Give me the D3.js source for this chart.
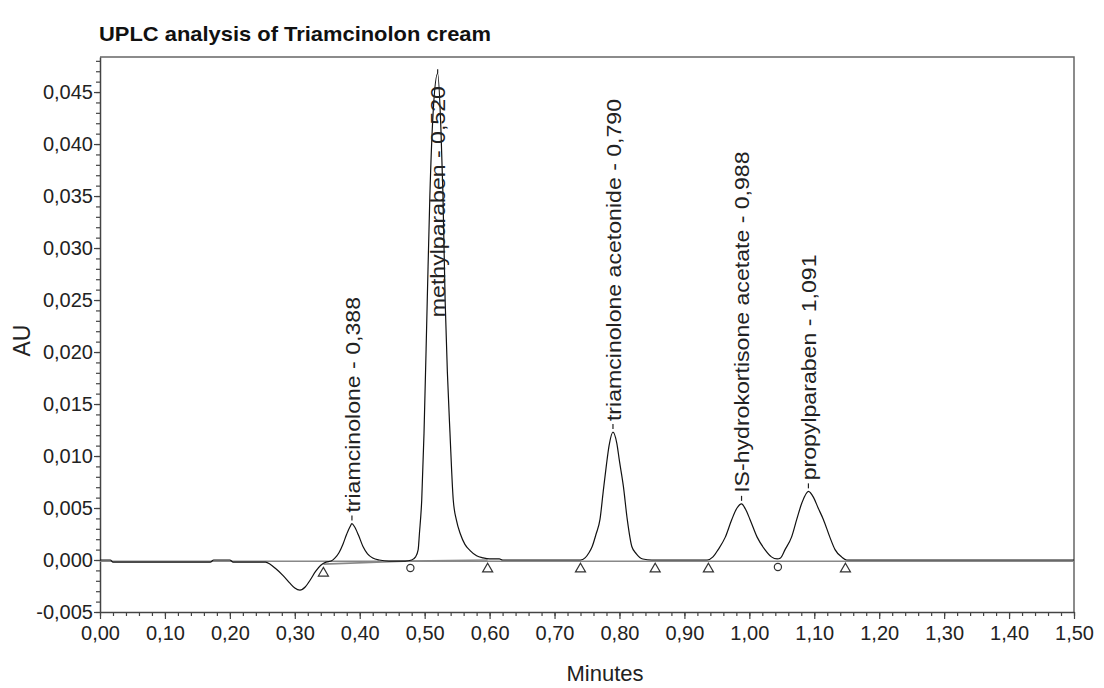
<!DOCTYPE html>
<html>
<head>
<meta charset="utf-8">
<script src="https://cdn.jsdelivr.net/npm/d3@7"></script>
<style>
  html, body { margin: 0; padding: 0; background: #fff; }
  svg { display: block; font-family: "Liberation Sans", Arial, Helvetica, sans-serif; }
</style>
</head>
<body>
<svg id="chart" width="1104" height="688"></svg>
<script>
// Detector trace: retention time (min) and absorbance (AU)
const traceTime = [
  0.000, 0.016, 0.020, 0.170, 0.175, 0.200, 0.205, 0.255, 0.262, 0.270,
  0.282, 0.292, 0.300, 0.308, 0.316, 0.324, 0.332, 0.340, 0.348, 0.356,
  0.362, 0.368, 0.374, 0.380, 0.385, 0.388, 0.392, 0.398, 0.405, 0.412,
  0.420, 0.430, 0.445, 0.470, 0.480, 0.486, 0.490, 0.492, 0.4955, 0.499,
  0.504, 0.508, 0.513, 0.520, 0.525, 0.528, 0.5315, 0.535, 0.539, 0.544,
  0.549, 0.555, 0.562, 0.570, 0.580, 0.590, 0.600, 0.615, 0.620, 0.740,
  0.747, 0.753, 0.758, 0.764, 0.770, 0.775, 0.780, 0.784, 0.790, 0.796,
  0.800, 0.806, 0.812, 0.819, 0.826, 0.836, 0.850, 0.935, 0.944, 0.952,
  0.963, 0.973, 0.981, 0.988, 0.994, 1.001, 1.012, 1.024, 1.034, 1.043,
  1.048, 1.055, 1.065, 1.073, 1.081, 1.091, 1.099, 1.106, 1.114, 1.124,
  1.132, 1.142, 1.150, 1.500
];
const traceAU = [
  0.0000, 0.0000, -0.0002, -0.0002, 0.0000, 0.0000, -0.0002, -0.0002, -0.0004, -0.0008,
  -0.0015, -0.0022, -0.0027, -0.0029, -0.0026, -0.0019, -0.0011, -0.0005, -0.0002, -0.0001,
  0.0002, 0.0007, 0.0015, 0.0025, 0.0032, 0.0035, 0.0032, 0.0024, 0.0013, 0.0006,
  0.0002, 0.0000, -0.0001, -0.0001, 0.0000, 0.0003, 0.0010, 0.0026, 0.0058, 0.0122,
  0.0250, 0.0350, 0.0430, 0.0468, 0.0415, 0.0355, 0.0250, 0.0180, 0.0122, 0.0058,
  0.0038, 0.0025, 0.0015, 0.0009, 0.0004, 0.0002, 0.0001, 0.0001, 0.0000, 0.0000,
  0.0002, 0.0007, 0.0013, 0.0025, 0.0039, 0.0066, 0.0092, 0.0110, 0.0123, 0.0112,
  0.0095, 0.0071, 0.0039, 0.0013, 0.0006, 0.0001, 0.0000, 0.0000, 0.0003, 0.0010,
  0.0022, 0.0039, 0.0050, 0.0054, 0.0049, 0.0039, 0.0022, 0.0010, 0.0003, 0.0001,
  0.0002, 0.0010, 0.0022, 0.0039, 0.0055, 0.0066, 0.0060, 0.0050, 0.0039, 0.0022,
  0.0010, 0.0003, 0.0000, 0.0000
];

// Identified peaks
const peakNames = ["triamcinolone", "methylparaben", "triamcinolone acetonide",
                   "IS-hydrokortisone acetate", "propylparaben"];
const peakTimes = [0.388, 0.520, 0.790, 0.988, 1.091];

// Integration marks: peak start/end (triangles) and valley drops (circles)
const triangleTimes = [0.344, 0.597, 0.740, 0.855, 0.937, 1.148];
const triangleAU    = [-0.0004, 0.0000, 0.0000, 0.0000, 0.0000, 0.0000];
const circleTimes   = [0.478, 1.044];
const circleAU      = [-0.0001, 0.0000];

// Integration baseline segments [t0, au0, t1, au1]
const baselineSegments = [
  [0.344, -0.0004, 0.478, -0.0001],
  [0.478, -0.0001, 0.597, 0.0000]
];

// Axis ticks
const xMajorTicks = [0.0, 0.1, 0.2, 0.3, 0.4, 0.5, 0.6, 0.7, 0.8, 0.9, 1.0, 1.1, 1.2, 1.3, 1.4, 1.5];
const yMajorTicks = [-0.005, 0.000, 0.005, 0.010, 0.015, 0.020, 0.025, 0.030, 0.035, 0.040, 0.045];

const xDomain = [0, 1.5];
const yDomain = [-0.005, 0.04837];

const svg = d3.select("#chart");
const plotLeft = 100, plotRight = 1074, plotTop = 57, plotBottom = 612;

const x = d3.scaleLinear().domain(xDomain).range([plotLeft, plotRight]);
const y = d3.scaleLinear().domain(yDomain).range([plotBottom, plotTop]);

const locale = d3.formatLocale({ decimal: ",", thousands: ".", grouping: [3], currency: ["", ""], minus: "-" });
const fmtY = locale.format(".3f");
const fmtX = locale.format(".2f");
const fmtRT = locale.format(".3f");

const xMinor = d3.range(0, 1.5001, 0.02).map(v => +v.toFixed(2));
const yMinor = d3.range(-0.005, 0.0484, 0.001).map(v => +v.toFixed(3));

// Title
svg.append("text")
  .attr("x", 99).attr("y", 41)
  .attr("font-size", 21).attr("font-weight", "bold").attr("fill", "#111")
  .attr("textLength", 392).attr("lengthAdjust", "spacingAndGlyphs")
  .text("UPLC analysis of Triamcinolon cream");

// Frame (top and right)
svg.append("path")
  .attr("d", `M${plotLeft},${plotTop}H${plotRight}V${plotBottom}`)
  .attr("fill", "none").attr("stroke", "#666").attr("stroke-width", 1.5);

// Minor ticks
const gxMinor = svg.append("g").attr("transform", `translate(0,${plotBottom})`)
  .call(d3.axisBottom(x).tickValues(xMinor).tickFormat("").tickSize(4));
gxMinor.select(".domain").remove();
const gyMinor = svg.append("g").attr("transform", `translate(${plotLeft},0)`)
  .call(d3.axisLeft(y).tickValues(yMinor).tickFormat("").tickSize(4));
gyMinor.select(".domain").remove();

// Major axes
const gx = svg.append("g").attr("transform", `translate(0,${plotBottom})`)
  .call(d3.axisBottom(x).tickValues(xMajorTicks).tickFormat(fmtX).tickSize(7).tickPadding(5).tickSizeOuter(0));
const gy = svg.append("g").attr("transform", `translate(${plotLeft},0)`)
  .call(d3.axisLeft(y).tickValues(yMajorTicks).tickFormat(fmtY).tickSize(6).tickPadding(1).tickSizeOuter(0));

[gx, gy, gxMinor, gyMinor].forEach(g => {
  g.selectAll("line").attr("stroke", "#444").attr("stroke-width", 1.2);
  g.selectAll(".domain").attr("stroke", "#444").attr("stroke-width", 1.5);
  g.selectAll("text").attr("font-size", 20).attr("fill", "#222")
    .attr("font-family", "'Liberation Sans', Arial, sans-serif");
});
gx.selectAll("text").attr("dy", "0.8em");

// Axis titles
svg.append("text")
  .attr("x", 605).attr("y", 681).attr("text-anchor", "middle")
  .attr("font-size", 22).attr("fill", "#222").text("Minutes");
svg.append("text")
  .attr("transform", `translate(30,${(plotTop + plotBottom) / 2 + 6}) rotate(-90)`)
  .attr("text-anchor", "middle").attr("font-size", 23).attr("fill", "#222").text("AU");

// Zero reference line
svg.append("line")
  .attr("x1", x(xDomain[0])).attr("x2", x(xDomain[1]))
  .attr("y1", y(-0.00012)).attr("y2", y(-0.00012))
  .attr("stroke", "#888").attr("stroke-width", 1.4);

// Integration baselines
svg.append("g").selectAll("line").data(baselineSegments).join("line")
  .attr("x1", d => x(d[0])).attr("y1", d => y(d[1]))
  .attr("x2", d => x(d[2])).attr("y2", d => y(d[3]))
  .attr("stroke", "#888").attr("stroke-width", 1.6);

// Chromatogram trace
const trace = traceTime.map((t, i) => [t, traceAU[i]]);
svg.append("path")
  .datum(trace)
  .attr("fill", "none").attr("stroke", "#111").attr("stroke-width", 1.2)
  .attr("stroke-linejoin", "round")
  .attr("d", d3.line().x(d => x(d[0])).y(d => y(d[1])).curve(d3.curveMonotoneX));

// Integration markers
const triangle = d3.symbol().type(d3.symbolTriangle).size(44);
svg.append("g").selectAll("path").data(triangleTimes).join("path")
  .attr("d", triangle)
  .attr("transform", (t, i) => `translate(${x(t)},${y(triangleAU[i]) + 9})`)
  .attr("fill", "#fff").attr("stroke", "#333").attr("stroke-width", 1.2);
svg.append("g").selectAll("circle").data(circleTimes).join("circle")
  .attr("cx", t => x(t)).attr("cy", (t, i) => y(circleAU[i]) + 7)
  .attr("r", 3.6)
  .attr("fill", "#fff").attr("stroke", "#333").attr("stroke-width", 1.2);

// Peak labels: connector above the apex, then vertical text
const labelTopLimit = 86;
const labelFont = 21;
const labels = svg.append("g");
peakNames.forEach((name, i) => {
  const rt = peakTimes[i];
  const near = trace.filter(d => Math.abs(d[0] - rt) <= 0.006);
  const apex = d3.max(near, d => d[1]);
  const px = x(rt), py = y(apex);
  const g = labels.append("g");
  const txt = g.append("text")
    .attr("font-size", labelFont).attr("fill", "#222")
    .attr("dy", "0.36em")
    .text(`${name} - ${fmtRT(rt)}`);
  const len = txt.node().getComputedTextLength() * 1.1;
  let start = py - 11;
  if (start - len < labelTopLimit) start = labelTopLimit + len;
  txt.attr("transform", `translate(${px},${start}) rotate(-90) scale(1.1,1)`);
  g.append("line")
    .attr("x1", px).attr("x2", px)
    .attr("y1", Math.min(py, start + 8)).attr("y2", Math.min(py - 4, start + 3))
    .attr("stroke", "#222").attr("stroke-width", 1.2);
});
</script>
</body>
</html>
